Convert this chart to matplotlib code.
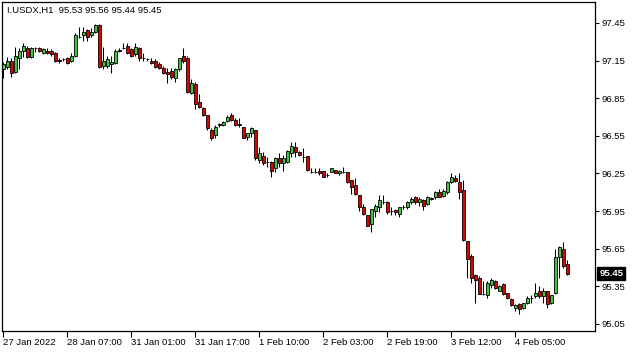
import numpy as np
import matplotlib
matplotlib.use("Agg")
import matplotlib.pyplot as plt

# I.USDX H1 candles
opens = [97.08, 97.10, 97.15, 97.06, 97.17, 97.23, 97.25, 97.18, 97.25, 97.25,
         97.21, 97.23, 97.23, 97.21, 97.15, 97.16, 97.17, 97.15, 97.19, 97.34,
         97.35, 97.39, 97.35, 97.38, 97.43, 97.11, 97.11, 97.12, 97.13, 97.23,
         97.25, 97.27, 97.24, 97.20, 97.25, 97.17, 97.16, 97.15, 97.15, 97.12,
         97.09, 97.06, 97.07, 97.01, 97.08, 97.19, 97.17, 96.89, 96.96, 96.82,
         96.77, 96.72, 96.60, 96.56, 96.64, 96.64, 96.67, 96.72, 96.68, 96.64,
         96.62, 96.54, 96.57, 96.60, 96.36, 96.39, 96.34, 96.34, 96.29, 96.37,
         96.33, 96.34, 96.41, 96.46, 96.42, 96.38, 96.39, 96.26, 96.26, 96.27,
         96.27, 96.24, 96.26, 96.28, 96.25, 96.26, 96.26, 96.20, 96.16, 96.08,
         95.98, 95.92, 95.85, 95.95, 95.98, 96.02, 96.02, 95.95, 95.96, 95.93,
         95.98, 95.98, 96.02, 96.06, 96.02, 96.04, 96.01, 96.05, 96.06, 96.10,
         96.07, 96.10, 96.18, 96.21, 96.18, 96.12, 95.71, 95.59, 95.44, 95.42,
         95.29, 95.28, 95.36, 95.39, 95.31, 95.37, 95.30, 95.25, 95.18, 95.21,
         95.18, 95.22, 95.26, 95.27, 95.31, 95.27, 95.31, 95.22, 95.30, 95.58,
         95.65, 95.53]
highs = [97.14, 97.18, 97.17, 97.26, 97.25, 97.29, 97.27, 97.26, 97.26, 97.26,
         97.25, 97.25, 97.24, 97.22, 97.17, 97.17, 97.18, 97.21, 97.37, 97.42,
         97.42, 97.40, 97.41, 97.44, 97.44, 97.26, 97.19, 97.19, 97.24, 97.25,
         97.29, 97.29, 97.25, 97.29, 97.26, 97.21, 97.17, 97.17, 97.16, 97.14,
         97.11, 97.09, 97.09, 97.09, 97.17, 97.25, 97.19, 97.00, 96.98, 96.88,
         96.78, 96.72, 96.61, 96.64, 96.65, 96.67, 96.72, 96.73, 96.69, 96.69,
         96.62, 96.57, 96.62, 96.60, 96.46, 96.42, 96.38, 96.35, 96.38, 96.41,
         96.40, 96.44, 96.50, 96.50, 96.43, 96.45, 96.39, 96.29, 96.29, 96.29,
         96.27, 96.25, 96.29, 96.28, 96.28, 96.30, 96.26, 96.20, 96.21, 96.08,
         96.01, 95.92, 95.97, 96.01, 96.08, 96.08, 96.03, 95.98, 95.97, 95.98,
         96.00, 96.03, 96.06, 96.07, 96.06, 96.05, 96.07, 96.06, 96.11, 96.13,
         96.13, 96.19, 96.25, 96.24, 96.25, 96.20, 95.71, 95.61, 95.45, 95.43,
         95.39, 95.39, 95.42, 95.40, 95.36, 95.38, 95.30, 95.26, 95.21, 95.22,
         95.22, 95.27, 95.28, 95.38, 95.35, 95.34, 95.31, 95.28, 95.65, 95.67,
         95.70, 95.56]
lows = [97.01, 97.08, 97.02, 97.05, 97.08, 97.18, 97.17, 97.17, 97.22, 97.22,
        97.20, 97.20, 97.19, 97.14, 97.13, 97.15, 97.12, 97.14, 97.18, 97.33,
        97.31, 97.31, 97.34, 97.37, 97.09, 97.08, 97.09, 97.05, 97.12, 97.22,
        97.24, 97.20, 97.18, 97.19, 97.15, 97.15, 97.15, 97.12, 97.09, 97.08,
        97.04, 96.97, 97.00, 96.98, 97.07, 97.13, 96.89, 96.88, 96.76, 96.77,
        96.71, 96.60, 96.52, 96.53, 96.62, 96.63, 96.66, 96.67, 96.63, 96.62,
        96.53, 96.52, 96.54, 96.36, 96.33, 96.32, 96.30, 96.22, 96.26, 96.30,
        96.27, 96.33, 96.38, 96.38, 96.39, 96.34, 96.27, 96.25, 96.25, 96.24,
        96.22, 96.22, 96.26, 96.25, 96.24, 96.25, 96.17, 96.09, 96.08, 95.95,
        95.92, 95.83, 95.78, 95.90, 95.94, 96.01, 95.93, 95.92, 95.92, 95.90,
        95.97, 95.97, 96.01, 96.01, 95.99, 95.96, 96.00, 96.04, 96.05, 96.06,
        96.06, 96.09, 96.17, 96.18, 96.05, 95.71, 95.42, 95.38, 95.22, 95.29,
        95.28, 95.26, 95.34, 95.33, 95.31, 95.28, 95.25, 95.19, 95.15, 95.13,
        95.17, 95.21, 95.22, 95.26, 95.26, 95.22, 95.18, 95.21, 95.29, 95.42,
        95.50, 95.44]
closes = [97.12, 97.15, 97.05, 97.19, 97.23, 97.27, 97.18, 97.25, 97.25, 97.23,
          97.24, 97.21, 97.20, 97.15, 97.15, 97.16, 97.13, 97.19, 97.35, 97.34,
          97.38, 97.34, 97.38, 97.43, 97.10, 97.15, 97.16, 97.14, 97.23, 97.23,
          97.25, 97.21, 97.19, 97.26, 97.17, 97.17, 97.16, 97.13, 97.10, 97.09,
          97.05, 97.04, 97.02, 97.08, 97.17, 97.15, 96.90, 96.97, 96.80, 96.78,
          96.72, 96.61, 96.53, 96.62, 96.64, 96.66, 96.70, 96.68, 96.64, 96.64,
          96.53, 96.57, 96.61, 96.37, 96.41, 96.33, 96.34, 96.27, 96.37, 96.33,
          96.37, 96.43, 96.47, 96.42, 96.40, 96.38, 96.28, 96.26, 96.26, 96.25,
          96.22, 96.24, 96.29, 96.25, 96.27, 96.26, 96.18, 96.14, 96.09, 95.98,
          95.93, 95.83, 95.97, 95.99, 96.04, 96.02, 95.94, 95.95, 95.94, 95.98,
          95.98, 96.02, 96.05, 96.02, 96.05, 95.99, 96.06, 96.05, 96.10, 96.06,
          96.11, 96.18, 96.22, 96.19, 96.10, 95.72, 95.57, 95.42, 95.40, 95.29,
          95.29, 95.38, 95.40, 95.34, 95.35, 95.29, 95.26, 95.20, 95.20, 95.17,
          95.22, 95.26, 95.26, 95.30, 95.27, 95.31, 95.21, 95.28, 95.58, 95.66,
          95.51, 95.45]

date_labels = ["27 Jan 2022", "28 Jan 07:00", "31 Jan 01:00", "31 Jan 17:00",
               "1 Feb 10:00", "2 Feb 03:00", "2 Feb 19:00", "3 Feb 12:00",
               "4 Feb 05:00"]
label_every = 16
price_ticks = [95.05, 95.35, 95.65, 95.95, 96.25, 96.55, 96.85, 97.15, 97.45]
symbol = "I.USDX,H1"

BULL = "#3cc83c"
BEAR = "#e00000"
FONT = "Liberation Sans"


def main():
    o = np.array(opens)
    c = np.array(closes)
    h = np.maximum(np.array(highs), np.maximum(o, c))
    l = np.minimum(np.array(lows), np.minimum(o, c))
    x = np.arange(len(o))

    fig = plt.figure(figsize=(6.35, 3.52), dpi=100)
    ax = fig.add_axes([2 / 635, 1 - 331 / 352, 593 / 635, 329 / 352])

    ax.vlines(x, l, h, color="black", linewidth=0.75, zorder=2)
    bottoms = np.minimum(o, c)
    heights = np.maximum(np.abs(c - o), 0.001)
    colors = [BULL if cc > oo else (BEAR if cc < oo else "black") for oo, cc in zip(o, c)]
    ax.bar(x, heights, bottom=bottoms, width=0.75, color=colors,
           edgecolor="black", linewidth=0.6, zorder=3)

    ax.set_xlim(-0.25, 148)
    ax.set_ylim(94.994, 97.617)

    ax.yaxis.tick_right()
    ax.set_yticks(price_ticks)
    ax.set_yticklabels([f"{p:.2f}" for p in price_ticks])
    ax.tick_params(axis="y", direction="out", length=3, width=0.8, pad=2,
                   labelsize=6.8, colors="black")
    for t in ax.get_yticklabels():
        t.set_fontfamily(FONT)

    xt = list(range(0, len(date_labels) * label_every, label_every))
    ax.set_xticks(xt)
    ax.set_xticklabels(date_labels)
    ax.tick_params(axis="x", direction="out", length=4, width=0.8, pad=1,
                   labelsize=6.8)
    for t in ax.get_xticklabels():
        t.set_horizontalalignment("left")
        t.set_fontfamily(FONT)

    for s in ax.spines.values():
        s.set_color("black")
        s.set_linewidth(0.9)

    # header line with the last bar's OHLC
    header = f"{symbol}  {opens[-1]:.2f} {highs[-1]:.2f} {lows[-1]:.2f} {closes[-1]:.2f}"
    ax.text(0.009, 0.988, header, transform=ax.transAxes, ha="left", va="top",
            fontsize=6.8, family=FONT, color="black")

    # current price marker on the scale
    ax.text(1.007, closes[-1], f"{closes[-1]:.2f}", transform=ax.get_yaxis_transform(),
            ha="left", va="center", fontsize=6.8, family=FONT, color="white",
            fontweight="bold",
            bbox=dict(boxstyle="square,pad=0.22", facecolor="black", edgecolor="black"),
            clip_on=False, zorder=5)

    fig.savefig("out.png", dpi=100, facecolor="white")


if __name__ == "__main__":
    main()
